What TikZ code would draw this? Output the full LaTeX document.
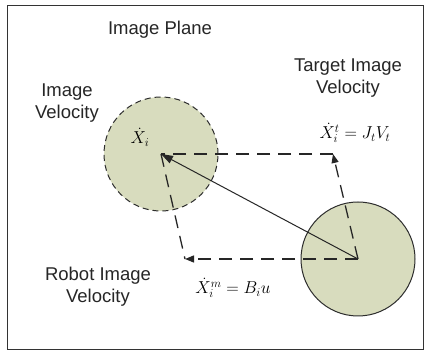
\documentclass[tikz,border=0pt]{standalone}
\usepackage{fontspec}
\setmainfont{Liberation Sans}
\usetikzlibrary{arrows.meta}
\definecolor{blobfill}{RGB}{216,220,190}
\definecolor{edge}{RGB}{45,45,45}
\tikzset{
  blob/.style={circle, fill=blobfill, draw=edge, line width=1pt, minimum size=114pt, inner sep=0pt},
  lbl/.style={font=\fontsize{18.5}{22}\selectfont, align=center, text=black!85, inner sep=0pt},
  eq/.style={font=\fontsize{18.5}{21}\selectfont, inner sep=0pt},
  dline/.style={draw=black!85, line width=1.3pt, dash pattern=on 13pt off 8pt},
  tip/.style={-{Triangle[length=9pt,width=7pt]}}
}
\begin{document}
\begin{tikzpicture}[x=1pt,y=1pt]
\useasboundingbox (0,0) rectangle (425,352);
\fill[white] (0,0) rectangle (425,352);
\draw[black!80, line width=1pt] (7,2) rectangle (423,346);
\node[blob, dashed, dash pattern=on 6pt off 4pt] (lc) at (161,198) {};
\node[blob] (rc) at (358,93) {};
\coordinate (T) at (333,198);
\coordinate (B) at (185,93);
\draw[dline, tip] (rc.center) -- (T);
\draw[dline] (T) -- (lc.center);
\draw[dline] (lc.center) -- (B);
\draw[dline, tip] (rc.center) -- (B);
\draw[black!85, line width=1pt, -{Triangle[length=12pt,width=8pt]}] (rc.center) -- (lc.center);
\node[lbl] (plane) at (160,322) {Image Plane};
\node[lbl] (iv) at (67,249) {Image\\Velocity};
\node[lbl] (tv) at (348,274) {Target Image\\Velocity};
\node[lbl] (rv) at (98,65) {Robot Image\\Velocity};
\node[eq] (xi) at (140,215) {$\dot{X}_i$};
\node[eq] (xt) at (355,219) {$\dot{X}_i^t = J_t V_t$};
\node[eq] (xm) at (233,64) {$\dot{X}_i^m = B_i u$};
\end{tikzpicture}
\end{document}
